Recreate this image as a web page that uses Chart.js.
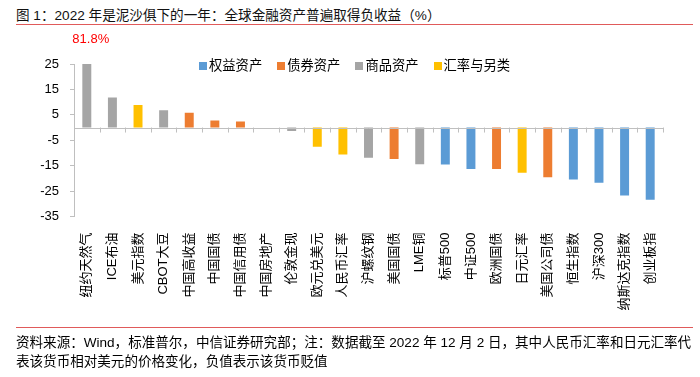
<!DOCTYPE html>
<html>
<head>
<meta charset="utf-8">
<script src="https://cdn.jsdelivr.net/npm/chart.js@4/dist/chart.umd.min.js"></script>
<style>
  body { margin: 0; background: #fff; }
  #wrap { position: relative; width: 700px; height: 377px; font-family: "Liberation Sans", "Noto Sans CJK SC", sans-serif; color: #000; }
  #c { position: absolute; left: 0; top: 0; }
  #title { position: absolute; left: 16px; top: 7px; font-size: 13.6px; line-height: 18px; white-space: nowrap; color: #111; }
  .rule { position: absolute; left: 16px; width: 677px; height: 1px; background: #e05a5a; }
  #legend { position: absolute; left: 199px; top: 57px; font-size: 13.3px; line-height: 18px; white-space: nowrap; }
  #legend span.item { display: inline-block; margin-right: 15px; }
  #legend i { display: inline-block; width: 8px; height: 8px; margin-right: 2px; vertical-align: 0px; }
  #foot { position: absolute; left: 16px; top: 333px; font-size: 13.55px; line-height: 19px; white-space: nowrap; }
</style>
</head>
<body>
<div id="wrap">
  <div id="title">图 1：2022 年是泥沙俱下的一年：全球金融资产普遍取得负收益（%）</div>
  <div class="rule" style="top:24px"></div>
  <canvas id="c" width="700" height="377"></canvas>
  <div id="legend"></div>
  <div class="rule" style="top:327px"></div>
  <div id="foot">资料来源：Wind，标准普尔，中信证券研究部；注：数据截至 2022 年 12 月 2 日，其中人民币汇率和日元汇率代<br>表该货币相对美元的价格变化，负值表示该货币贬值</div>
</div>
<script>
// data
var categories = ['纽约天然气', 'ICE布油', '美元指数', 'CBOT大豆', '中国高收益', '中国国债', '中国信用债', '中国房地产',
  '伦敦金现', '欧元兑美元', '人民币汇率', '沪螺纹钢', '美国国债', 'LME铜', '标普500', '中证500', '欧洲国债',
  '日元汇率', '美国公司债', '恒生指数', '沪深300', '纳斯达克指数', '创业板指'];
var values = [81.8, 11.8, 8.9, 6.8, 5.8, 2.8, 2.4, 0,
  -1.4, -7.6, -10.6, -11.9, -12.4, -14.4, -14.5, -16.3, -16.3,
  -17.8, -19.6, -20.4, -21.7, -26.7, -28.4];
var groups = ['商品资产', '商品资产', '汇率与另类', '商品资产', '债券资产', '债券资产', '债券资产', '权益资产',
  '商品资产', '汇率与另类', '汇率与另类', '商品资产', '债券资产', '商品资产', '权益资产', '权益资产', '债券资产',
  '汇率与另类', '债券资产', '权益资产', '权益资产', '权益资产', '权益资产'];
var groupNames = ['权益资产', '债券资产', '商品资产', '汇率与另类'];
var groupColors = ['#5b9bd5', '#ed7d31', '#a5a5a5', '#ffc000'];
var yTicks = [-35, -25, -15, -5, 5, 15, 25];

var datasets = groupNames.map(function (g, k) {
  return {
    label: g,
    data: values.map(function (v, i) { return groups[i] === g ? v : null; }),
    backgroundColor: groupColors[k],
    borderWidth: 0,
    categoryPercentage: 1,
    barPercentage: 0.35
  };
});

// html legend
var leg = document.getElementById('legend');
groupNames.forEach(function (g, k) {
  var s = document.createElement('span');
  s.className = 'item';
  s.innerHTML = '<i style="background:' + groupColors[k] + '"></i>' + g;
  leg.appendChild(s);
});

var axisGrey = '#bfbfbf';

var extras = {
  id: 'extras',
  afterDatasetsDraw: function (chart) {
    var ctx = chart.ctx, x = chart.scales.x, y = chart.scales.y;
    var y0 = y.getPixelForValue(0);
    ctx.save();
    ctx.strokeStyle = axisGrey;
    ctx.lineWidth = 1;
    ctx.beginPath();
    ctx.moveTo(x.left, Math.round(y0) + 0.5);
    ctx.lineTo(x.right, Math.round(y0) + 0.5);
    for (var i = 0; i <= categories.length; i++) {
      var px = Math.round(x.getPixelForValue(i - 0.5)) + 0.5;
      ctx.moveTo(px, y0);
      ctx.lineTo(px, y0 + 5);
    }
    ctx.stroke();
    // overflow label for the clipped first bar
    ctx.fillStyle = '#ff0000';
    ctx.font = '13px "Liberation Sans", "Noto Sans CJK SC", sans-serif';
    ctx.textAlign = 'center';
    ctx.textBaseline = 'middle';
    ctx.fillText(values[0] + '%', x.getPixelForValue(0) + 4, chart.chartArea.top - 25);
    ctx.restore();
  }
};

new Chart(document.getElementById('c'), {
  type: 'bar',
  data: { labels: categories, datasets: datasets },
  options: {
    responsive: false,
    animation: false,
    devicePixelRatio: 1,
    layout: { padding: { top: 64, right: 37, bottom: 60.5, left: 0 } },
    plugins: { legend: { display: false }, tooltip: { enabled: false } },
    scales: {
      x: {
        stacked: true,
        grid: { display: false },
        border: { display: false },
        ticks: {
          autoSkip: false, maxRotation: 90, minRotation: 90, padding: 8,
          color: '#000',
          font: { size: 13, family: '"Liberation Sans", "Noto Sans CJK SC", sans-serif' }
        },
        afterFit: function (s) { s.height = 100; }
      },
      y: {
        stacked: true,
        min: -35, max: 25,
        afterBuildTicks: function (s) { s.ticks = yTicks.map(function (v) { return { value: v }; }); },
        grid: {
          drawOnChartArea: false,
          drawTicks: true, tickLength: 4,
          tickColor: axisGrey
        },
        border: { display: true, color: axisGrey },
        ticks: {
          padding: 11, color: '#000',
          font: { size: 13, family: '"Liberation Sans", "Noto Sans CJK SC", sans-serif' }
        },
        afterFit: function (s) { s.width = 74; }
      }
    }
  },
  plugins: [extras]
});
</script>
</body>
</html>
